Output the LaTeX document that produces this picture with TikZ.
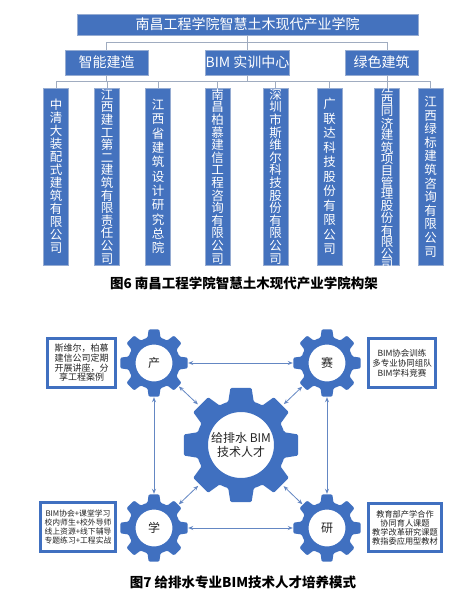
\documentclass[tikz,border=0pt]{standalone}
\usepackage{fontspec}
\setmainfont{Noto Sans CJK SC}
\usepackage{tikz}
\usetikzlibrary{
    arrows.meta,
    positioning,
    calc
}
\XeTeXlinebreaklocale "zh"
\XeTeXlinebreakskip=0pt plus 1pt
\definecolor{Cbox}{RGB}{68, 114, 190}
\definecolor{Cedge}{RGB}{150, 172, 210}
\definecolor{Clink}{RGB}{160, 172, 192}
\definecolor{Cgear}{RGB}{64, 112, 192}
\definecolor{Carrow}{RGB}{100, 135, 195}
\definecolor{Ctext}{RGB}{35, 35, 35}
\tikzset{
    orgbox/.style={
        rectangle, draw=Cedge, line width=0.6pt, fill=Cbox, text=white,
        inner sep=0pt, font=\fontsize{14}{16}\selectfont
    },
    firmbox/.style={
        rectangle, draw=Cedge, line width=0.6pt, fill=Cbox,
        minimum width=25pt, minimum height=177pt, inner sep=0pt
    },
    firmtxt/.style={
        text=white, text width=13pt, align=center, inner sep=0pt,
        font=\fontsize{12.5}{#1}\selectfont
    },
    firmtxt/.default=13,
    link/.style={line width=0.8pt, Clink},
    sidebox/.style={
        rectangle, draw=Cgear, line width=3.3pt, fill=white, text=Ctext,
        inner sep=0pt, align=center
    },
    gnode/.style={
        circle, minimum size=68pt, inner sep=0pt, text=Ctext,
        font=\fontsize{12}{14}\selectfont
    },
    gearlink/.style={
        {Stealth[length=5pt, width=4pt]}-{Stealth[length=5pt, width=4pt]},
        line width=0.8pt, Carrow
    },
    captxt/.style={font=\bfseries\fontsize{13.5}{15}\selectfont, text=black},
    pics/gear/.style args={#1/#2/#3/#4/#5}{code={
        \fill[Cgear, even odd rule, rounded corners=1.2pt]
            (-#4:#1) \foreach \a in {0,45,...,315}{
                -- (\a-#4:#1) -- (\a-#5:#2) -- (\a+#5:#2) -- (\a+#4:#1) -- (\a+22.5:#1)
            } -- cycle
            (0,0) circle[radius=#3];
    }},
}

\begin{document}
\begin{tikzpicture}[x=1pt, y=-1pt]
    \fill[white] (0,0) rectangle (465,596);
    \useasboundingbox (0,0) rectangle (465,596);

    % org chart
    \node[orgbox, minimum width=341pt, minimum height=21pt]
        (top) at (247.5,24.5) {南昌工程学院智慧土木现代产业学院};
    \node[orgbox, minimum width=83pt, minimum height=25pt]
        (zn) at (106.5,62.5) {智能建造};
    \node[orgbox, minimum width=83pt, minimum height=25pt]
        (bim) at (247.5,62.5) {BIM 实训中心};
    \node[orgbox, minimum width=73pt, minimum height=25pt]
        (gb) at (381.5,62.5) {绿色建筑};

    \foreach \i/\x/\s/\t in {
        1/56/13/中清大装配式建筑有限公司,
        2/107/12.6/江西建工第二建筑有限责任公司,
        3/158/14.3/江西省建筑设计研究总院,
        4/217.5/12.6/南昌柏慕建信工程咨询有限公司,
        5/275.5/12.6/深圳市斯维尔科技股份有限公司,
        6/329.5/14.5/广联达科技股份有限公司,
        7/387/11.4/江西同济建筑项目管理股份有限公司,
        8/430.5/13.6/江西绿标建筑咨询有限公司}{
        \node[firmbox] (f\i) at (\x,176.5) {};
        \node[firmtxt=\s] at (f\i) {\t};
    }

    \draw[link] (top.south) -- ++(0,7.5) coordinate (bus1);
    \draw[link] (zn.north) |- (bus1) -| (gb.north -| f7.north);
    \draw[link] (bus1) -- (bim.north);
    \draw[link] (bim.south) -- ++(0,6) coordinate (bus2);
    \draw[link] (f1.north) |- (bus2) -| (f8.north);
    \foreach \i in {2,...,7}
        \draw[link] (f\i.north) -- (f\i.north |- bus2);
    \draw[link] (zn.south) -- (zn.south |- bus2);
    \draw[link] (gb.south -| f7.north) -- (f7.north |- bus2);

    \node[captxt] (cap6) at (244,283) {图6 南昌工程学院智慧土木现代产业学院构架};

    % gears
    \pic at (241,445) {gear=45/58/33/16.5/10.5};
    \pic at (154,363) {gear=26/34/18.5/14.5/9};
    \pic at (327,363) {gear=26/34/18.5/14.5/9};
    \pic at (154,528) {gear=26/34/18.5/14.5/9};
    \pic at (327,528) {gear=26/34/18.5/14.5/9};

    \node[gnode, minimum size=118pt, align=center, font=\fontsize{12}{13.5}\selectfont]
        (gc) at (241,445) {给排水 BIM\\技术人才};
    \node[gnode] (gp) at (154,363) {产};
    \node[gnode] (gs) at (327,363) {赛};
    \node[gnode] (gx) at (154,528) {学};
    \node[gnode] (gy) at (327,528) {研};

    \draw[gearlink] (gp) -- (gs);
    \draw[gearlink] (gx) -- (gy);
    \draw[gearlink] (gp) -- (gx);
    \draw[gearlink] (gs) -- (gy);
    \foreach \g in {gp,gs,gx,gy}
        \draw[gearlink] (\g) -- (gc);

    \node[sidebox, minimum width=67.7pt, minimum height=48.7pt, font=\fontsize{9}{9.7}\selectfont]
        (np) at (81.5,363) {斯维尔，柏慕\\建信公司定期\\开展讲座，分\\享工程案例};
    \node[sidebox, minimum width=66.7pt, minimum height=48.7pt, font=\fontsize{8.5}{10}\selectfont]
        (ns) at (402,363) {BIM协会训练\\多专业协同组队\\BIM学科竞赛};
    \node[sidebox, minimum width=74.7pt, minimum height=48.7pt, font=\fontsize{7.8}{9}\selectfont]
        (nx) at (78,527) {BIM协会+课堂学习\\校内师生+校外导师\\线上资源+线下辅导\\专题练习+工程实战};
    \node[sidebox, minimum width=72.7pt, minimum height=47.7pt, font=\fontsize{8.2}{9}\selectfont]
        (ny) at (405,527.5) {教育部产学合作\\协同育人课题\\教学改革研究课题\\教指委应用型教材};

    \node[captxt] (cap7) at (243,582) {图7 给排水专业BIM技术人才培养模式};
\end{tikzpicture}
\end{document}
